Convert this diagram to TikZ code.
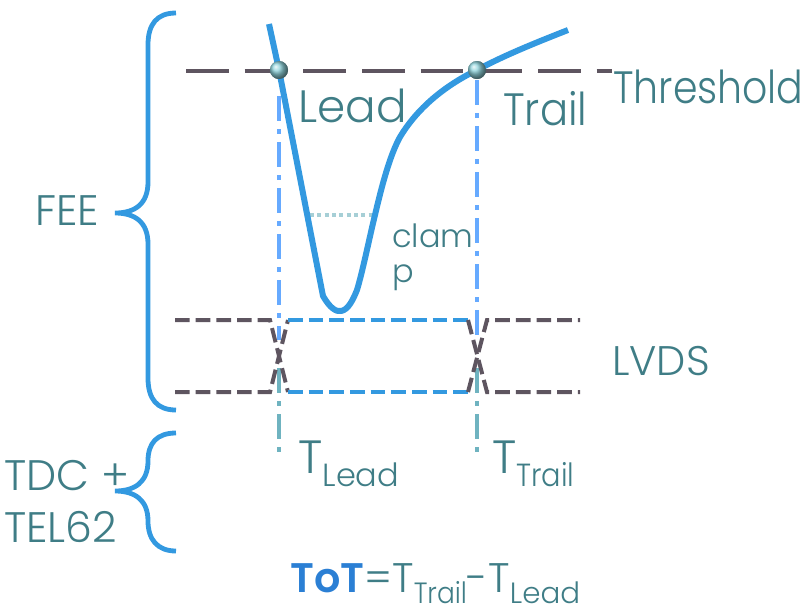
\documentclass[tikz,border=0pt]{standalone}
\usepackage{fontspec}
\setmainfont{Poppins}[UprightFont={* Light}, BoldFont={* SemiBold}]
\definecolor{txt}{HTML}{3F7D86}
\definecolor{sigblue}{HTML}{3399E0}
\definecolor{totblue}{HTML}{2B7FD4}
\definecolor{gry}{HTML}{5E5560}
\definecolor{vblue}{HTML}{66AAFF}
\definecolor{vteal}{HTML}{6FB3C0}
\definecolor{clampc}{HTML}{A6CFD6}
\definecolor{ballc}{HTML}{8ED2DA}
\begin{document}
\begin{tikzpicture}[x=0.75pt,y=-0.75pt,
  thresh/.style={draw=gry, line width=3pt, dash pattern=on 32pt off 12pt},
  lvds/.style={line width=3pt, dash pattern=on 11pt off 4.5pt},
  vline/.style={line width=3pt, dash pattern=on 19pt off 6pt on 3.5pt off 6pt},
  sig/.style={draw=sigblue, line width=4.5pt, line join=round},
  brace/.style={draw=sigblue, line width=3.6pt},
  lbl/.style={text=txt, inner sep=0pt, anchor=base west},
  ball/.style={circle, inner sep=0pt, minimum size=13.5pt, shading=ball, ball color=ballc}]
\useasboundingbox (0,0) rectangle (808,612);

% threshold
\coordinate (thL) at (186,71);
\coordinate (thR) at (612,71);
\draw[thresh] (thL) -- (thR);

% verticals
\coordinate (lv1) at (279,96);
\coordinate (lv2) at (279,340);
\coordinate (lv3) at (279,368);
\coordinate (lv4) at (279,452);
\coordinate (tv1) at (477,80);
\coordinate (tv2) at (477,340);
\coordinate (tv3) at (477,368);
\coordinate (tv4) at (477,452);
\draw[vline, draw=vblue] (lv1) -- (lv2);
\draw[vline, draw=vteal] (lv3) -- (lv4);
\draw[vline, draw=vblue] (tv1) -- (tv2);
\draw[vline, draw=vteal] (tv3) -- (tv4);

% clamp
\coordinate (cl1) at (310,215);
\coordinate (cl2) at (375,215);
\draw[draw=clampc, line width=3pt, dash pattern=on 3pt off 2.5pt] (cl1) -- (cl2);

% LVDS
\coordinate (a1) at (175,320); \coordinate (a2) at (270,320);
\coordinate (a3) at (288,320); \coordinate (a4) at (468,320);
\coordinate (a5) at (487,320); \coordinate (a6) at (580,320);
\coordinate (b1) at (175,392); \coordinate (b2) at (270,392);
\coordinate (b3) at (288,392); \coordinate (b4) at (468,392);
\coordinate (b5) at (487,392); \coordinate (b6) at (580,392);
\draw[lvds, draw=gry] (a1) -- (a2) -- (b3);
\draw[lvds, draw=gry] (b1) -- (b2) -- (a3);
\draw[lvds, draw=sigblue] (a3) -- (a4);
\draw[lvds, draw=sigblue] (b3) -- (b4);
\draw[lvds, draw=gry] (a4) -- (b5) -- (b6);
\draw[lvds, draw=gry] (b4) -- (a5) -- (a6);

% signal
\node[ball] (lead) at (279,70) {};
\node[ball] (trail) at (477,70) {};
\coordinate (s0) at (269,24);
\coordinate (s1) at (323,296);
\coordinate (s2) at (568,30);
\draw[sig] (s0) -- (lead.center) -- (s1)
  .. controls (330,308) and (336,312) .. (341,311)
  .. controls (348,310) and (353,300) .. (357,290)
  .. controls (363,270) and (370,235) .. (375,215)
  .. controls (382,185) and (390,155) .. (400,137)
  .. controls (415,112) and (440,88) .. (trail.center)
  .. controls (505,55) and (535,43) .. (s2);
\node[ball] at (lead.center) {};
\node[ball] at (trail.center) {};

% braces
\coordinate (fa) at (176,13);
\coordinate (fb) at (176,410);
\coordinate (ftip) at (115,213);
\draw[brace] (fa) .. controls (157,13) and (148,24) .. (148,45) -- (148,182)
  .. controls (148,204) and (135,213) .. (ftip)
  .. controls (135,213) and (148,222) .. (148,244) -- (148,378)
  .. controls (148,399) and (157,410) .. (fb);
\coordinate (ta) at (176,433);
\coordinate (tb) at (176,551);
\coordinate (ttip) at (115,491);
\draw[brace] (ta) .. controls (157,433) and (148,443) .. (148,461)
  .. controls (148,482) and (135,491) .. (ttip)
  .. controls (135,491) and (148,500) .. (148,521)
  .. controls (148,539) and (157,551) .. (tb);

% labels
\node[lbl, font=\fontsize{34}{40}\selectfont] (tlead) at (298,122) {Lead};
\node[lbl, font=\fontsize{34}{40}\selectfont] (ttrail) at (503,125) {\scalebox{0.92}[1]{Trail}};
\node[lbl, font=\fontsize{34}{40}\selectfont] (tthr) at (613,103) {\scalebox{0.87}[1]{Threshold}};
\node[lbl, font=\fontsize{31}{38}\selectfont] (tlvds) at (612,375) {LVDS};
\node[lbl, font=\fontsize{32}{38}\selectfont] (tfee) at (35,225) {FEE};
\node[lbl, font=\fontsize{32}{38}\selectfont] (ttdc) at (4,490) {TDC +};
\node[lbl, font=\fontsize{32}{38}\selectfont] (ttel) at (4,542) {TEL62};
\node[lbl, font=\fontsize{24}{30}\selectfont] (tclam) at (392,247) {clam};
\node[lbl, font=\fontsize{24}{30}\selectfont] (tp) at (392,282) {p};
\node[lbl, font=\fontsize{35}{40}\selectfont] (tTlead) at (298,473) {T\raisebox{-10pt}{\fontsize{24}{30}\selectfont Lead}};
\node[lbl, font=\fontsize{35}{40}\selectfont] (tTtrail) at (492,473) {T\raisebox{-10pt}{\fontsize{24}{30}\selectfont\scalebox{0.9}[1]{Trail}}};
\node[lbl, font=\fontsize{31}{40}\selectfont] (ttot) at (290,592) {\textcolor{totblue}{\bfseries ToT}=T\raisebox{-8.5pt}{\fontsize{22}{28}\selectfont\scalebox{0.9}[1]{Trail}}-T\raisebox{-8.5pt}{\fontsize{22}{28}\selectfont Lead}};
\end{tikzpicture}
\end{document}
